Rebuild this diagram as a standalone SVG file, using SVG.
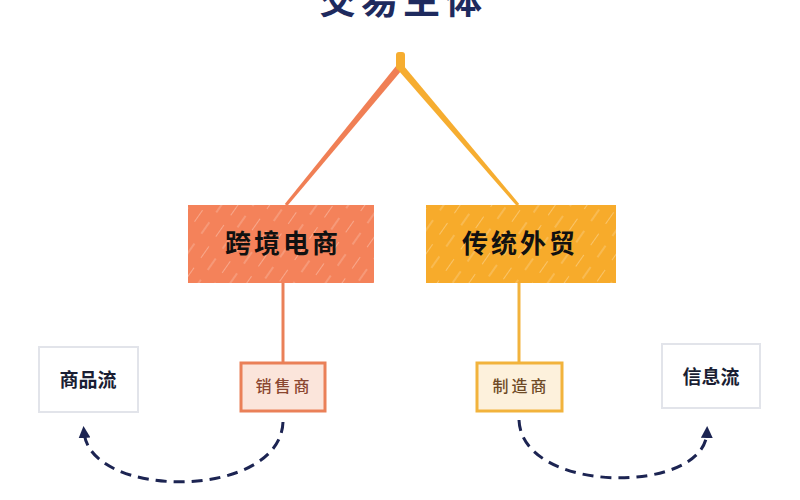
<svg xmlns="http://www.w3.org/2000/svg" width="800" height="500" viewBox="0 0 800 500">
  <style>
    .cjk { font-family: "Noto Sans CJK SC", "Noto Sans", sans-serif; text-anchor: middle; }
    .title { font-size: 37px; font-weight: 700; fill: #1e2a5e; letter-spacing: 5px; }
    .main { font-size: 26px; font-weight: 700; fill: #111111; letter-spacing: 3px; }
    .sub { font-size: 16px; font-weight: 500; letter-spacing: 3px; }
    .flow { font-size: 19px; font-weight: 700; fill: #1a1e33; }
    .flowbox { fill: #ffffff; stroke: #e2e4ea; stroke-width: 2; }
    .dash { fill: none; stroke: #1c2452; stroke-width: 3; stroke-dasharray: 11 7; }
  </style>
  <defs>
    <pattern id="hatch" width="26" height="26" patternUnits="userSpaceOnUse" patternTransform="rotate(35)">
      <rect width="26" height="26" fill="none"/>
      <line x1="0" y1="4" x2="0" y2="18" stroke="#ffffff" stroke-opacity="0.4" stroke-width="1.5"/>
      <line x1="13" y1="10" x2="13" y2="24" stroke="#ffffff" stroke-opacity="0.3" stroke-width="1.2"/>
    </pattern>
    <marker id="arrow" viewBox="0 0 10 10" refX="5" refY="5" markerWidth="4" markerHeight="4" orient="auto-start-reverse">
      <path d="M0,0 L10,5 L0,10 Z" fill="#1c2452"/>
    </marker>
  </defs>
  <rect width="800" height="500" fill="#ffffff"/>

  <g id="title">
    <text class="cjk title" x="403" y="14">交易主体</text>
  </g>

  <g id="connectors">
    <polygon points="396.3,65.8 401.7,70.2 287.2,206 284.8,204" fill="#f07f55"/>
    <polygon points="398.3,70.2 403.7,65.8 519.2,204 516.8,206" fill="#f6ad30"/>
    <rect x="396" y="52" width="9" height="18" rx="3" fill="#f6ad30"/>
    <line x1="283" y1="283" x2="283" y2="363" stroke="#ea8058" stroke-width="3"/>
    <line x1="519" y1="283" x2="519" y2="363" stroke="#f2b33c" stroke-width="3"/>
    <path class="dash" d="M283,422 C280,500 90,500 84,432" marker-end="url(#arrow)"/>
    <path class="dash" d="M519,420 C522,495 705,495 707,432" marker-end="url(#arrow)"/>
  </g>

  <g id="node-cbec">
    <rect x="188" y="205" width="186" height="78" fill="#f4825a"/>
    <rect x="188" y="205" width="186" height="78" fill="url(#hatch)"/>
    <text class="cjk main" x="283" y="253">跨境电商</text>
  </g>

  <g id="node-trade">
    <rect x="426" y="205" width="190" height="78" fill="#f7ab2b"/>
    <rect x="426" y="205" width="190" height="78" fill="url(#hatch)"/>
    <text class="cjk main" x="520" y="253">传统外贸</text>
  </g>

  <g id="node-seller">
    <rect x="241" y="363" width="84" height="48" fill="#fbe5db" stroke="#ea8058" stroke-width="3"/>
    <text class="cjk sub" x="284" y="392" fill="#8a4630">销售商</text>
  </g>

  <g id="node-maker">
    <rect x="477" y="363" width="85" height="48" fill="#fdf1dc" stroke="#f2b33c" stroke-width="3"/>
    <text class="cjk sub" x="521" y="392" fill="#6e4a26">制造商</text>
  </g>

  <g id="node-goods">
    <rect class="flowbox" x="39" y="347" width="99" height="65"/>
    <text class="cjk flow" x="88" y="387">商品流</text>
  </g>

  <g id="node-info">
    <rect class="flowbox" x="662" y="344" width="98" height="64"/>
    <text class="cjk flow" x="711" y="384">信息流</text>
  </g>
</svg>
